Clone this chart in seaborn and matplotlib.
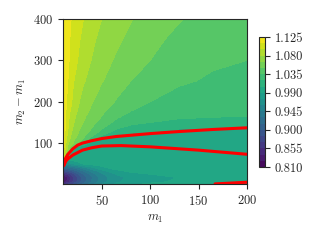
import numpy as np
import pandas as pd
import matplotlib
matplotlib.use("Agg")
import matplotlib.pyplot as plt
from matplotlib.ticker import FormatStrFormatter
import seaborn as sns

# grid of the field
M1 = [10, 12, 15, 20, 25, 30, 40, 50, 65, 80, 100, 130, 165, 200]
DM = [1, 6, 12, 18, 25, 32, 40, 50, 60, 70, 80, 90, 100, 110, 120, 130,
      140, 150, 165, 180, 200, 250, 300, 350, 400]
RATIO = [
    [0.860, 0.862, 0.868, 0.884, 0.900, 0.916, 0.940, 0.960, 0.978, 0.986, 0.993, 0.996, 0.996, 0.996],
    [0.835, 0.839, 0.849, 0.870, 0.889, 0.906, 0.933, 0.954, 0.973, 0.981, 0.987, 0.993, 0.995, 0.996],
    [0.815, 0.826, 0.840, 0.865, 0.885, 0.903, 0.930, 0.952, 0.971, 0.979, 0.986, 0.991, 0.993, 0.995],
    [0.820, 0.828, 0.842, 0.866, 0.886, 0.904, 0.930, 0.952, 0.971, 0.979, 0.986, 0.991, 0.993, 0.995],
    [0.850, 0.853, 0.860, 0.878, 0.895, 0.911, 0.937, 0.957, 0.976, 0.984, 0.990, 0.995, 0.996, 0.996],
    [0.880, 0.882, 0.886, 0.899, 0.913, 0.926, 0.949, 0.968, 0.985, 0.993, 0.996, 0.996, 0.996, 0.996],
    [0.915, 0.916, 0.919, 0.929, 0.939, 0.950, 0.970, 0.986, 0.996, 0.996, 0.996, 0.996, 0.996, 0.996],
    [1.045, 0.966, 0.968, 0.975, 0.982, 0.991, 0.996, 0.996, 0.996, 0.996, 0.996, 0.996, 0.996, 0.996],
    [1.123, 1.028, 0.991, 0.996, 0.996, 0.996, 0.996, 0.996, 0.996, 0.996, 0.996, 0.996, 0.996, 0.996],
    [1.123, 1.083, 1.028, 0.996, 0.996, 0.996, 0.996, 0.996, 0.996, 0.996, 0.996, 0.996, 0.996, 0.996],
    [1.123, 1.093, 1.070, 0.996, 0.996, 0.996, 0.996, 0.996, 0.996, 0.996, 0.996, 0.996, 0.996, 0.996],
    [1.123, 1.098, 1.077, 1.045, 0.996, 0.996, 0.996, 0.996, 0.996, 0.996, 0.996, 0.996, 0.996, 0.996],
    [1.123, 1.101, 1.083, 1.066, 1.054, 1.021, 0.996, 0.996, 0.996, 0.996, 0.996, 0.996, 0.996, 0.996],
    [1.123, 1.104, 1.087, 1.070, 1.059, 1.052, 1.026, 1.000, 0.996, 0.996, 0.996, 0.996, 0.996, 0.996],
    [1.123, 1.107, 1.091, 1.074, 1.065, 1.055, 1.039, 1.022, 1.008, 1.000, 0.998, 0.996, 0.996, 0.996],
    [1.123, 1.110, 1.095, 1.077, 1.067, 1.059, 1.047, 1.032, 1.017, 1.012, 1.009, 1.000, 0.998, 0.996],
    [1.123, 1.112, 1.096, 1.081, 1.070, 1.063, 1.051, 1.039, 1.024, 1.018, 1.014, 1.012, 1.009, 1.007],
    [1.123, 1.113, 1.097, 1.083, 1.072, 1.066, 1.054, 1.044, 1.031, 1.023, 1.020, 1.017, 1.015, 1.013],
    [1.123, 1.114, 1.099, 1.086, 1.076, 1.069, 1.058, 1.050, 1.038, 1.030, 1.025, 1.022, 1.021, 1.020],
    [1.123, 1.115, 1.101, 1.089, 1.080, 1.072, 1.062, 1.053, 1.043, 1.036, 1.030, 1.025, 1.023, 1.022],
    [1.123, 1.116, 1.104, 1.093, 1.083, 1.075, 1.066, 1.057, 1.049, 1.040, 1.035, 1.029, 1.026, 1.024],
    [1.123, 1.118, 1.110, 1.097, 1.089, 1.083, 1.072, 1.066, 1.056, 1.050, 1.043, 1.037, 1.033, 1.030],
    [1.123, 1.119, 1.113, 1.101, 1.095, 1.088, 1.079, 1.071, 1.063, 1.056, 1.050, 1.042, 1.037, 1.035],
    [1.123, 1.120, 1.114, 1.104, 1.097, 1.093, 1.083, 1.075, 1.068, 1.061, 1.054, 1.046, 1.041, 1.038],
    [1.123, 1.120, 1.116, 1.107, 1.100, 1.096, 1.086, 1.080, 1.071, 1.066, 1.058, 1.051, 1.044, 1.040],
]

# red curves
UPPER_M1 = [10.5, 11, 12, 13, 15, 20, 25, 30, 40, 50, 65, 80, 100, 130, 165, 200]
UPPER_DM = [45, 51, 60, 65, 73, 86, 95, 100, 106, 111, 116, 119, 123, 128, 133, 137]
LOWER_M1 = [10.5, 11, 13, 15, 20, 30, 40, 50, 70, 100, 150, 200]
LOWER_DM = [45, 47, 57, 62, 71, 83, 89, 93, 94, 91, 83, 73]
EDGE_M1 = [167, 180, 200]
EDGE_DM = [1.5, 3.0, 5.5]

CBAR_MIN, CBAR_MAX = 0.81, 1.125

sns.set_style("ticks")
plt.rcParams.update({
    "font.family": "serif",
    "font.serif": ["cmr10", "DejaVu Serif"],
    "mathtext.fontset": "cm",
    "axes.formatter.use_mathtext": True,
    "font.size": 9,
    "axes.labelsize": 9,
    "xtick.labelsize": 9,
    "ytick.labelsize": 9,
    "axes.edgecolor": "0.15",
    "axes.linewidth": 0.8,
    "xtick.major.size": 3.5,
    "ytick.major.size": 3.5,
    "xtick.major.width": 0.8,
    "ytick.major.width": 0.8,
})

fig = plt.figure(figsize=(3.2, 2.4), dpi=100)
ax = fig.add_axes([0.197, 0.233, 0.575, 0.688])

levels = np.linspace(CBAR_MIN, CBAR_MAX, 22)
cf = ax.contourf(M1, DM, np.array(RATIO), levels=levels, cmap="viridis")

curve = pd.DataFrame({
    "m1": UPPER_M1[::-1] + LOWER_M1,
    "dm": UPPER_DM[::-1] + LOWER_DM,
})
edge = pd.DataFrame({"m1": EDGE_M1, "dm": EDGE_DM})
sns.lineplot(data=curve, x="m1", y="dm", sort=False, color="red", lw=2.2,
             estimator=None, ax=ax)
sns.lineplot(data=edge, x="m1", y="dm", sort=False, color="red", lw=2.2,
             estimator=None, ax=ax)

ax.set_xlim(10, 200)
ax.set_ylim(1, 400)
ax.set_xticks([50, 100, 150, 200])
ax.set_yticks([100, 200, 300, 400])
ax.set_xlabel(r"$m_1$")
ax.set_ylabel(r"$m_2 - m_1$")

cax = fig.add_axes([0.809, 0.304, 0.019, 0.542])
cb = fig.colorbar(cf, cax=cax, ticks=np.linspace(CBAR_MIN, CBAR_MAX, 8))
cb.ax.yaxis.set_major_formatter(FormatStrFormatter("%.3f"))
cb.outline.set_linewidth(0.8)

fig.savefig("out.png", dpi=100)
